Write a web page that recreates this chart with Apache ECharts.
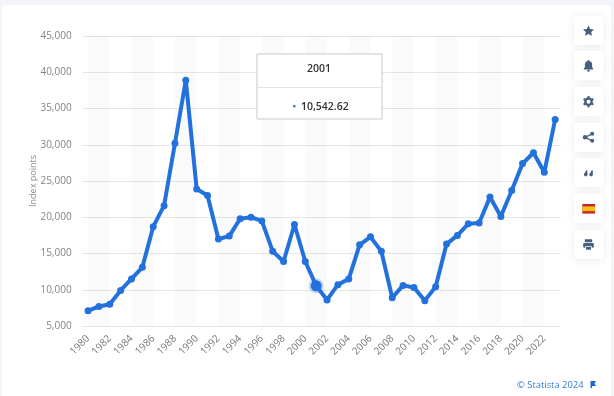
<!DOCTYPE html>
<html>
<head>
<meta charset="utf-8">
<style>html,body{margin:0;padding:0;background:#f3f4f9}#chart{width:614px;height:396px}</style>
<script src="https://cdn.jsdelivr.net/npm/echarts@6/dist/echarts.min.js"></script>
</head>
<body>
<div id="chart"></div>
<script>
const years = ['1980','1981','1982','1983','1984','1985','1986','1987','1988','1989','1990','1991','1992','1993','1994','1995','1996','1997','1998','1999','2000','2001','2002','2003','2004','2005','2006','2007','2008','2009','2010','2011','2012','2013','2014','2015','2016','2017','2018','2019','2020','2021','2022','2023']
const values = [7100,7700,8000,9900,11500,13100,18700,21600,30200,38900,23900,23000,17000,17400,19800,20000,19500,15300,13900,19000,13900,10542.62,8600,10700,11500,16200,17300,15300,8900,10600,10300,8500,10400,16300,17500,19100,19200,22800,20100,23700,27400,28900,26200,33500]
const bandStarts = ['1980','1984','1988','1992','1996','2000','2004','2008','2012','2016','2020']
const bandEnds = ['1982','1986','1990','1994','1998','2002','2006','2010','2014','2018','2022']
const activeYear = '2001'
const FONT = '"Open Sans", sans-serif'
const ICON = '#47607f'

// side buttons, top to bottom
const buttonTops = [16, 51, 87, 123, 158, 194, 230]

const button = (top) => ({
  type: 'rect',
  shape: { x: 574, y: top, width: 29.5, height: 29, r: 3 },
  style: { fill: '#fff', shadowBlur: 8, shadowColor: 'rgba(40,60,100,0.1)', shadowOffsetY: 1 },
})

const poly = (pts, fill = ICON) => ({ type: 'polygon', shape: { points: pts }, style: { fill } })
const dot = (cx, cy, r, fill = ICON) => ({ type: 'circle', shape: { cx, cy, r }, style: { fill } })
const box = (x, y, width, height, fill = ICON, r = 0) => ({ type: 'rect', shape: { x, y, width, height, r }, style: { fill } })
const seg = (x1, y1, x2, y2, w = 1.3) => ({ type: 'line', shape: { x1, y1, x2, y2 }, style: { stroke: ICON, lineWidth: w } })

const star = poly([[588.5,25.5],[590.2,29],[594,29.4],[591.2,32],[592,35.8],[588.5,33.9],[585,35.8],[585.8,32],[583,29.4],[586.8,29]])
const bell = [
  dot(588.5, 64.5, 3.6),
  box(584.9, 64.5, 7.2, 4),
  poly([[584.9,67],[592.1,67],[593.5,69.5],[583.5,69.5]]),
  dot(588.5, 60.8, 0.9),
  dot(588.5, 70.6, 1.2),
]
const gear = [
  { type: 'ring', shape: { cx: 588.5, cy: 101.7, r: 4.4, r0: 2.1 }, style: { fill: ICON } },
  seg(588.5, 96, 588.5, 107.4, 2),
  seg(583.6, 98.8, 593.4, 104.6, 2),
  seg(583.6, 104.6, 593.4, 98.8, 2),
  dot(588.5, 101.7, 2, '#fff'),
]
const share = [
  seg(592.2, 133.8, 585, 137.3),
  seg(585, 137.3, 592.2, 140.8),
  dot(592.2, 133.8, 2),
  dot(585, 137.3, 2.2),
  dot(592.2, 140.8, 2),
]
const quotes = [
  dot(585.7, 174.6, 1.8),
  poly([[584,174.5],[586.5,170],[587.4,170.5],[587.4,174.5]]),
  dot(591.1, 174.6, 1.8),
  poly([[589.4,174.5],[591.9,170],[592.8,170.5],[592.8,174.5]]),
]
const flag = [
  box(582.3, 204, 12.8, 9.6, '#c8242c'),
  box(582.3, 206.4, 12.8, 4.8, '#f3c21a'),
]
const printer = [
  box(584.8, 239.3, 7.4, 3, ICON, 0.5),
  box(583.2, 243, 10.6, 4.8, ICON, 1.2),
  box(585.3, 246, 6.4, 3.6, '#fff'),
  box(586, 246.7, 5, 3, ICON),
]

const graphics = [
  // card behind the chart
  {
    type: 'rect', z: -10,
    shape: { x: 2, y: 5, width: 609, height: 400, r: 4 },
    style: { fill: '#fff' },
  },
  ...buttonTops.map(button),
  star, ...bell, ...gear, ...share, ...quotes, ...flag, ...printer,
  // pinned tooltip
  {
    type: 'rect', z: 20,
    shape: { x: 257, y: 54, width: 125, height: 65 },
    style: { fill: '#fff', stroke: '#c9c9c9', lineWidth: 1 },
  },
  { type: 'line', z: 21, shape: { x1: 257, y1: 87.5, x2: 382, y2: 87.5 }, style: { stroke: '#e4e4e4', lineWidth: 1 } },
  { type: 'text', z: 21, style: { x: 319, y: 69.5, text: activeYear, align: 'center', verticalAlign: 'middle', fill: '#333', font: '600 10.5px ' + FONT } },
  { type: 'circle', z: 21, shape: { cx: 294.3, cy: 106.3, r: 1.3 }, style: { fill: '#2271dc' } },
  { type: 'text', z: 21, style: { x: 301, y: 107, text: '10,542.62', align: 'left', verticalAlign: 'middle', fill: '#333', font: '600 10.5px ' + FONT } },
  // credit line
  { type: 'text', style: { x: 517, y: 385.5, text: '© Statista 2024', align: 'left', verticalAlign: 'middle', fill: '#2f7de1', font: '9.4px ' + FONT } },
  poly([[590.5,381],[596,381],[594.5,383.5],[596,386],[592,386],[592,388],[590.5,388]], '#1a66d8'),
]

const chart = echarts.init(document.getElementById('chart'), null, { renderer: 'canvas' })

chart.setOption({
  animation: false,
  backgroundColor: 'transparent',
  grid: { left: 82.6, top: 36, width: 478, height: 290, containLabel: false },
  xAxis: {
    type: 'category',
    data: years,
    axisTick: { show: false },
    axisLine: { show: false },
    axisLabel: { interval: 1, rotate: 45, color: '#777', fontSize: 10, fontFamily: FONT, margin: 11 },
  },
  yAxis: {
    type: 'value',
    min: 5000,
    max: 45000,
    interval: 5000,
    name: 'Index points',
    nameLocation: 'middle',
    nameGap: 45,
    nameMoveOverlap: false,
    nameTextStyle: { color: '#8a8a8a', fontSize: 9, fontFamily: FONT },
    axisLine: { show: false },
    axisTick: { show: false },
    axisLabel: { color: '#858585', fontSize: 10, fontFamily: FONT, margin: 11, padding: [4, 0, 0, 0], formatter: v => v.toLocaleString('en-US') },
    splitLine: { lineStyle: { color: '#e6e6e6', width: 1 } },
  },
  series: [{
    type: 'line',
    data: values.map((v, i) => years[i] === activeYear
      ? { value: v, symbolSize: 11, itemStyle: { color: '#2271dc', borderColor: 'rgba(34,113,220,0.25)', borderWidth: 4 } }
      : v),
    symbol: 'circle',
    symbolSize: 7,
    color: '#2271dc',
    lineStyle: { width: 4 },
    markArea: {
      silent: true,
      itemStyle: { color: 'rgba(0,0,0,0.018)' },
      data: bandStarts.map((s, i) => [{ xAxis: s }, { xAxis: bandEnds[i] }]),
    },
    z: 5,
  }],
  graphic: graphics,
})
</script>
</body>
</html>
